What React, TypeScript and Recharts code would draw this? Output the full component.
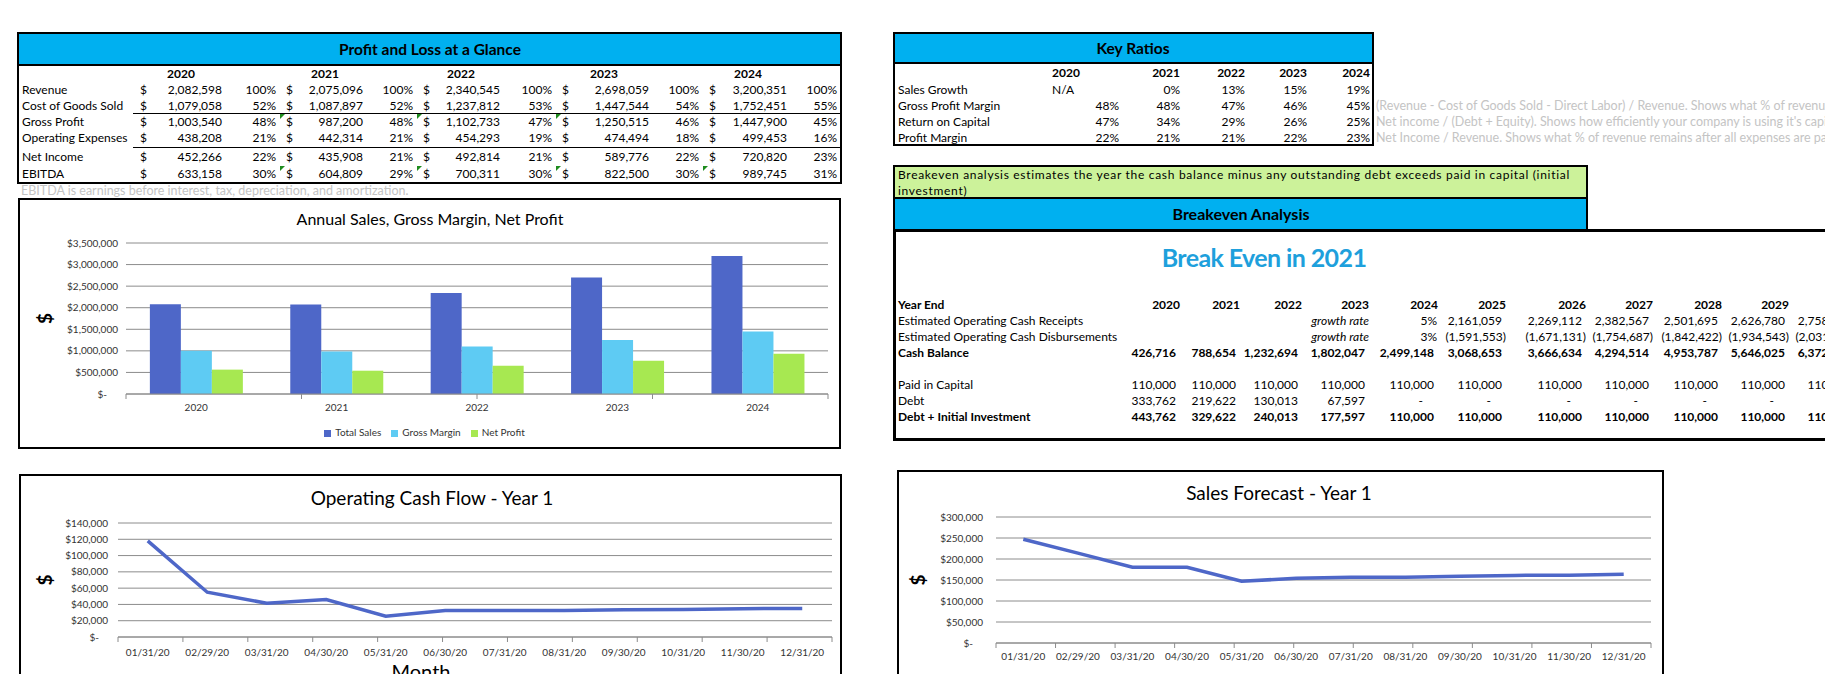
import React from 'react';
import { BarChart, Bar, LineChart, Line, XAxis, YAxis, CartesianGrid, Legend } from 'recharts';

const FONT = 'Lato, "Open Sans", Arial, sans-serif';
const BAND = '#00b0f0';
const NOTE = '#c4c4c4';
const GRID = '#8c8c8c';

// ---- Profit and Loss at a Glance ----
const plYears = ['2020', '2021', '2022', '2023', '2024'];
const revenue = [2082598, 2075096, 2340545, 2698059, 3200351];
const revenuePct = [100, 100, 100, 100, 100];
const cogs = [1079058, 1087897, 1237812, 1447544, 1752451];
const cogsPct = [52, 52, 53, 54, 55];
const grossProfit = [1003540, 987200, 1102733, 1250515, 1447900];
const grossProfitPct = [48, 48, 47, 46, 45];
const opex = [438208, 442314, 454293, 474494, 499453];
const opexPct = [21, 21, 19, 18, 16];
const netIncome = [452266, 435908, 492814, 589776, 720820];
const netIncomePct = [22, 21, 21, 22, 23];
const ebitda = [633158, 604809, 700311, 822500, 989745];
const ebitdaPct = [30, 29, 30, 30, 31];

// ---- Key Ratios ----
const ratioYears = ['2020', '2021', '2022', '2023', '2024'];
const salesGrowth = ['N/A', '0%', '13%', '15%', '19%'];
const grossMarginPct = [48, 48, 47, 46, 45];
const returnOnCapital = [47, 34, 29, 26, 25];
const profitMargin = [22, 21, 21, 22, 23];
const ratioNotes = [
  '(Revenue - Cost of Goods Sold - Direct Labor) / Revenue. Shows what % of revenue remains after direct costs.',
  'Net income / (Debt  + Equity). Shows how efficiently your company is using it\'s capital.',
  'Net Income / Revenue. Shows what % of revenue remains after all expenses are paid.',
];

// ---- Breakeven Analysis ----
const beYears = [2020, 2021, 2022, 2023, 2024, 2025, 2026, 2027, 2028, 2029, 2030];
const receipts = [null, null, null, null, null, 2161059, 2269112, 2382567, 2501695, 2626780, 2758119];
const disbursements = [null, null, null, null, null, -1591553, -1671131, -1754687, -1842422, -1934543, -2031270];
const receiptsGrowth = '5%';
const disbursementsGrowth = '3%';
const cashBalance = [426716, 788654, 1232694, 1802047, 2499148, 3068653, 3666634, 4294514, 4953787, 5646025, 6372874];
const paidInCapital = [110000, 110000, 110000, 110000, 110000, 110000, 110000, 110000, 110000, 110000, 110000];
const debt = [333762, 219622, 130013, 67597, 0, 0, 0, 0, 0, 0, 0];
const debtPlusInvestment = [443762, 329622, 240013, 177597, 110000, 110000, 110000, 110000, 110000, 110000, 110000];

// ---- charts ----
const salesYears = ['2020', '2021', '2022', '2023', '2024'];
const totalSales = [2082598, 2075096, 2340545, 2698059, 3200351];
const grossMargin = [1003540, 987200, 1102733, 1250515, 1447900];
const netProfit = [565000, 540000, 655000, 773000, 935000];
const salesTicks = [0, 500000, 1000000, 1500000, 2000000, 2500000, 3000000, 3500000];
const legendOrder = ['Total Sales', 'Gross Margin', 'Net Profit'];

const months = ['01/31/20', '02/29/20', '03/31/20', '04/30/20', '05/31/20', '06/30/20', '07/31/20', '08/31/20', '09/30/20', '10/31/20', '11/30/20', '12/31/20'];
const operatingCashFlow = [118000, 55000, 41500, 46000, 25500, 32500, 32500, 32600, 33500, 33800, 34800, 35000];
const cashFlowTicks = [0, 20000, 40000, 60000, 80000, 100000, 120000, 140000];
const salesForecast = [247000, 214000, 180500, 180500, 147000, 154000, 156400, 156500, 158800, 161000, 161200, 163600];
const forecastTicks = [0, 50000, 100000, 150000, 200000, 250000, 300000];
const monthEdges = [0, 1, 2, 3, 4, 5, 6, 7, 8, 9, 10, 11, 12];
const yearEdges = [0, 1, 2, 3, 4, 5];

const fmt = (n: number) => n.toLocaleString('en-US');

function T({ x, y, a = 'l', b, i, c = '#000', s = 12, ls, children }: any) {
  const w = 900;
  const left = a === 'l' ? x : a === 'r' ? x - w : x - w / 2;
  return (
    <div
      style={{
        position: 'absolute', left, top: y - 10, width: w, height: 20, lineHeight: '20px',
        textAlign: a === 'l' ? 'left' : a === 'r' ? 'right' : 'center',
        fontSize: s, fontWeight: b ? 700 : 400, fontStyle: i ? 'italic' : 'normal', color: c,
        whiteSpace: 'nowrap', letterSpacing: ls,
      }}
    >
      {children}
    </div>
  );
}

function Box({ l, t, w, h, bw = 2, bg = 'transparent' }: any) {
  return <div style={{ position: 'absolute', left: l, top: t, width: w, height: h, border: `${bw}px solid #000`, boxSizing: 'border-box', background: bg }} />;
}

function Flag({ x, y }: any) {
  return <div style={{ position: 'absolute', left: x, top: y, width: 0, height: 0, borderTop: '5px solid #1e8c1e', borderRight: '5px solid transparent' }} />;
}

const moneyTick = (zeroShift: number) => (props: any) => {
  const { x, y, payload } = props;
  const zero = payload.value === 0;
  return (
    <text x={zero ? x - zeroShift : x} y={y} dy={3.5} textAnchor="end" fontSize={10} fill="#333" fontFamily={FONT}>
      {zero ? '$-' : '$' + fmt(payload.value)}
    </text>
  );
};

const dollarLabel = (dx: number) => (props: any) => {
  const vb = props.viewBox;
  const cx = vb.x + dx;
  const cy = vb.y + vb.height / 2;
  return (
    <text x={cx} y={cy} transform={`rotate(-90 ${cx} ${cy})`} textAnchor="middle" dominantBaseline="central" fontSize={19} fontWeight={700} fill="#000" fontFamily={FONT}>
      $
    </text>
  );
};

function ProfitLoss() {
  const rows = [
    { label: 'Revenue', vals: revenue, pct: revenuePct, flags: [] as number[] },
    { label: 'Cost of Goods Sold', vals: cogs, pct: cogsPct, flags: [] },
    { label: 'Gross Profit', vals: grossProfit, pct: grossProfitPct, flags: [1, 2, 3] },
    { label: 'Operating Expenses', vals: opex, pct: opexPct, flags: [] },
    { label: 'Net Income', vals: netIncome, pct: netIncomePct, flags: [] },
    { label: 'EBITDA', vals: ebitda, pct: ebitdaPct, flags: [1, 2, 3, 4] },
  ];
  const rowY = [90, 106, 122, 138, 157, 174];
  const dollarX = [140, 286, 423, 562, 709];
  const valueR = [222, 363, 500, 649, 787];
  const pctR = [276, 413, 552, 699, 837];
  const yearX = [181, 325, 461, 604, 748];
  return (
    <>
      <Box l={17} t={32} w={825} h={152} />
      <div style={{ position: 'absolute', left: 19, top: 34, width: 821, height: 30, background: BAND, borderBottom: '2px solid #000' }} />
      <T x={430} y={49} a="c" b s={15.5}>Profit and Loss at a Glance</T>
      {plYears.map((yr, i) => <T key={yr} x={yearX[i]} y={74} a="c" b>{yr}</T>)}
      <div style={{ position: 'absolute', left: 133, top: 113, width: 707, height: 0, borderTop: '1.5px solid #000' }} />
      <div style={{ position: 'absolute', left: 133, top: 147, width: 707, height: 0, borderTop: '1.5px solid #000' }} />
      {rows.map((r, ri) => (
        <React.Fragment key={r.label}>
          <T x={22} y={rowY[ri]}>{r.label}</T>
          {r.vals.map((v, i) => (
            <React.Fragment key={i}>
              <T x={dollarX[i]} y={rowY[ri]}>$</T>
              <T x={valueR[i]} y={rowY[ri]} a="r">{fmt(v)}</T>
              <T x={pctR[i]} y={rowY[ri]} a="r">{r.pct[i]}%</T>
              {r.flags.includes(i) && <Flag x={dollarX[i] - 6} y={rowY[ri] - 8} />}
            </React.Fragment>
          ))}
        </React.Fragment>
      ))}
      <T x={21} y={191} c={NOTE} s={12.5}>EBITDA is earnings before interest, tax, depreciation, and amortization.</T>
    </>
  );
}

function KeyRatios() {
  const rowY = [90, 106, 122, 138];
  const colR = [1119, 1180, 1245, 1307, 1370];
  const rows = [
    { label: 'Gross Profit Margin', vals: grossMarginPct, note: ratioNotes[0] },
    { label: 'Return on Capital', vals: returnOnCapital, note: ratioNotes[1] },
    { label: 'Profit Margin', vals: profitMargin, note: ratioNotes[2] },
  ];
  return (
    <>
      <Box l={893} t={32} w={481} h={114} />
      <div style={{ position: 'absolute', left: 895, top: 34, width: 477, height: 28, background: BAND, borderBottom: '2px solid #000' }} />
      <T x={1133} y={48} a="c" b s={15.5}>Key Ratios</T>
      {ratioYears.map((yr, i) => i === 0
        ? <T key={yr} x={1052} y={73} b>{yr}</T>
        : <T key={yr} x={colR[i]} y={73} a="r" b>{yr}</T>)}
      <T x={898} y={rowY[0]}>Sales Growth</T>
      {salesGrowth.map((v, i) => i === 0
        ? <T key={i} x={1052} y={rowY[0]}>{v}</T>
        : <T key={i} x={colR[i]} y={rowY[0]} a="r">{v}</T>)}
      {rows.map((r, ri) => (
        <React.Fragment key={r.label}>
          <T x={898} y={rowY[ri + 1]}>{r.label}</T>
          {r.vals.map((v, i) => <T key={i} x={colR[i]} y={rowY[ri + 1]} a="r">{v}%</T>)}
          <T x={1376} y={rowY[ri + 1]} c={NOTE} s={12.5}>{r.note}</T>
        </React.Fragment>
      ))}
    </>
  );
}

function Breakeven() {
  const colR = [1180, 1240, 1302, 1369, 1438, 1506, 1586, 1653, 1722, 1789, 1856];
  const num = (v: number | null, x: number, y: number, bold?: boolean) => {
    if (v === null) return null;
    if (v === 0) return <T x={x - 15} y={y} a="r" b={bold}>-</T>;
    if (v < 0) return <T x={x} y={y} a="r" b={bold}>({fmt(-v)})</T>;
    return <T x={x - 4} y={y} a="r" b={bold}>{fmt(v)}</T>;
  };
  const rows = [
    { label: 'Estimated Operating Cash Receipts', vals: receipts, y: 321, growth: receiptsGrowth },
    { label: 'Estimated Operating Cash Disbursements', vals: disbursements, y: 337, growth: disbursementsGrowth },
    { label: 'Cash Balance', vals: cashBalance, y: 353, bold: true },
    { label: 'Paid in Capital', vals: paidInCapital, y: 385 },
    { label: 'Debt', vals: debt, y: 401 },
    { label: 'Debt + Initial Investment', vals: debtPlusInvestment, y: 417, bold: true },
  ];
  return (
    <>
      <Box l={893} t={165} w={695} h={34} bg="#ccf29a" />
      <T x={898} y={175} s={12} ls="0.7px">Breakeven analysis estimates the year the cash balance minus any outstanding debt exceeds paid in capital (initial</T>
      <T x={898} y={191} s={12} ls="0.7px">investment)</T>
      <Box l={893} t={197} w={695} h={34} bg={BAND} />
      <T x={1241} y={214} a="c" b s={16}>Breakeven Analysis</T>
      <Box l={893} t={229} w={1100} h={212} bw={3} />
      <T x={1264} y={257} a="c" b s={25} ls="-0.6px" c="#1ea0dc">Break Even in 2021</T>
      <T x={898} y={305} b>Year End</T>
      {beYears.map((yr, i) => <T key={yr} x={colR[i]} y={305} a="r" b>{yr}</T>)}
      {rows.map((r) => (
        <React.Fragment key={r.label}>
          <T x={898} y={r.y} b={r.bold}>{r.label}</T>
          {r.growth && <T x={colR[3]} y={r.y} a="r" i>growth rate</T>}
          {r.growth && <T x={colR[4] - 1} y={r.y} a="r">{r.growth}</T>}
          {r.vals.map((v, i) => <React.Fragment key={i}>{num(v as number | null, colR[i], r.y, r.bold)}</React.Fragment>)}
        </React.Fragment>
      ))}
    </>
  );
}

function SalesChart() {
  const data = salesYears.map((year, i) => ({ year, sales: totalSales[i], margin: grossMargin[i], profit: netProfit[i] }));
  return (
    <>
      <Box l={18} t={198} w={823} h={251} />
      <T x={430} y={219} a="c" s={16}>Annual Sales, Gross Margin, Net Profit</T>
      <div style={{ position: 'absolute', left: 20, top: 200 }}>
        <BarChart width={819} height={247} data={data} margin={{ top: 43, right: 11, bottom: 17, left: 0 }} barGap={0} barCategoryGap="17%">
          <CartesianGrid vertical={false} stroke={GRID} xAxisId="cat" />
          <XAxis type="number" domain={[0, 5]} ticks={yearEdges} interval={0} allowDataOverflow height={6} tickSize={5} tickFormatter={() => ''} stroke={GRID} />
          <XAxis xAxisId="cat" dataKey="year" interval={0} height={30} axisLine={false} tickLine={false} tickSize={2} tick={{ fontSize: 10, fill: '#333' }} />
          <YAxis width={106} domain={[0, 3500000]} ticks={salesTicks} interval={0} axisLine={false} tickLine={false} tick={moneyTick(11)} label={{ content: dollarLabel(24) }} />
          <Legend
            verticalAlign="middle"
            iconType="square"
            iconSize={7}
            itemSorter={(item: any) => legendOrder.indexOf(item.value)}
            wrapperStyle={{ top: 226, left: 0, width: 819, fontSize: 10, lineHeight: '12px' }}
            formatter={(v: any) => <span style={{ color: '#333' }}>{v}</span>}
          />
          <Bar xAxisId="cat" dataKey="sales" name="Total Sales" fill="#4e67c8" isAnimationActive={false} />
          <Bar xAxisId="cat" dataKey="margin" name="Gross Margin" fill="#5ecbf3" isAnimationActive={false} />
          <Bar xAxisId="cat" dataKey="profit" name="Net Profit" fill="#a7e851" isAnimationActive={false} />
        </BarChart>
      </div>
    </>
  );
}

function CashFlowChart() {
  const data = months.map((m, i) => ({ month: m, value: operatingCashFlow[i] }));
  return (
    <>
      <Box l={19} t={474} w={823} h={240} />
      <T x={432} y={498} a="c" s={19}>Operating Cash Flow - Year 1</T>
      <div style={{ position: 'absolute', left: 21, top: 476 }}>
        <LineChart width={819} height={215} data={data} margin={{ top: 47, right: 8, bottom: 28, left: 0 }}>
          <CartesianGrid vertical={false} stroke={GRID} xAxisId="cat" />
          <XAxis type="number" domain={[0, 12]} ticks={monthEdges} interval={0} allowDataOverflow height={6} tickSize={5} tickFormatter={() => ''} stroke={GRID} />
          <XAxis xAxisId="cat" dataKey="month" scale="band" interval={0} height={20} axisLine={false} tickLine={false} tickSize={2} tickMargin={4} tick={{ fontSize: 10, fill: '#333' }} />
          <YAxis width={97} domain={[0, 140000]} ticks={cashFlowTicks} interval={0} axisLine={false} tickLine={false} tickMargin={4} tick={moneyTick(9)} label={{ content: dollarLabel(23) }} />
          <Line xAxisId="cat" dataKey="value" stroke="#4e67c8" strokeWidth={3.5} dot={false} isAnimationActive={false} />
        </LineChart>
      </div>
      <T x={421} y={671} a="c" s={20}>Month</T>
    </>
  );
}

function ForecastChart() {
  const data = months.map((m, i) => ({ month: m, value: salesForecast[i] }));
  return (
    <>
      <Box l={897} t={470} w={767} h={240} />
      <T x={1279} y={493} a="c" s={19}>Sales Forecast - Year 1</T>
      <div style={{ position: 'absolute', left: 899, top: 472 }}>
        <LineChart width={763} height={215} data={data} margin={{ top: 45, right: 11, bottom: 18, left: 0 }}>
          <CartesianGrid vertical={false} stroke={GRID} xAxisId="cat" />
          <XAxis type="number" domain={[0, 12]} ticks={monthEdges} interval={0} allowDataOverflow height={6} tickSize={5} tickFormatter={() => ''} stroke={GRID} />
          <XAxis xAxisId="cat" dataKey="month" scale="band" interval={0} height={20} axisLine={false} tickLine={false} tickSize={2} tick={{ fontSize: 10, fill: '#333' }} />
          <YAxis width={97} domain={[0, 300000]} ticks={forecastTicks} interval={0} axisLine={false} tickLine={false} tickMargin={7} tick={moneyTick(10)} label={{ content: dollarLabel(18) }} />
          <Line xAxisId="cat" dataKey="value" stroke="#4e67c8" strokeWidth={3.5} dot={false} isAnimationActive={false} />
        </LineChart>
      </div>
    </>
  );
}

export default function App() {
  return (
    <div style={{ position: 'fixed', left: 0, top: 0, width: 1825, height: 674, overflow: 'hidden', background: '#fff', fontFamily: FONT, color: '#000' }}>
      <ProfitLoss />
      <KeyRatios />
      <Breakeven />
      <SalesChart />
      <CashFlowChart />
      <ForecastChart />
    </div>
  );
}
